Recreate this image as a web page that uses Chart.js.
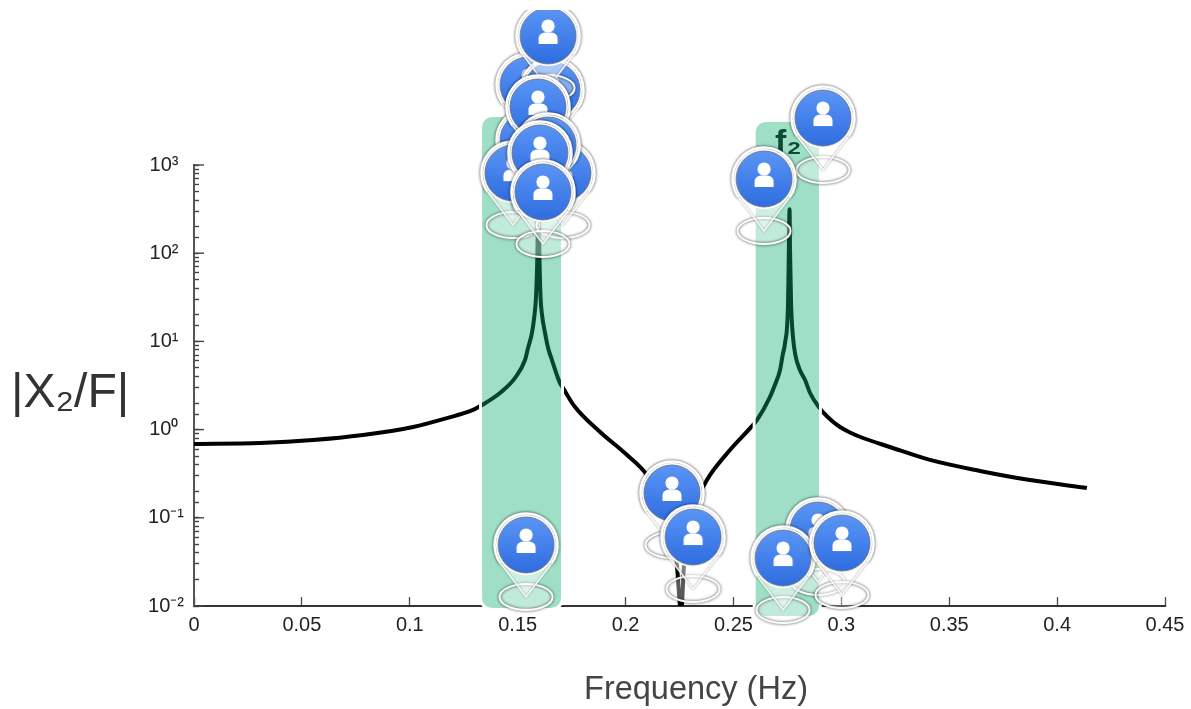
<!DOCTYPE html>
<html>
<head>
<meta charset="utf-8">
<style>html,body{margin:0;padding:0;background:#fff}#w{width:1191px;height:709px;position:relative}</style>
<script src="https://cdn.jsdelivr.net/npm/chart.js@4/dist/chart.umd.min.js"></script>
</head>
<body>
<div id="w"><canvas id="c" width="1191" height="709"></canvas></div>
<script>
const curveFreq = [0,0.0306,0.0551,0.0783,0.1015,0.1172,0.1293,0.1335,0.1418,0.1488,0.1534,0.1548,0.1566,0.1578,0.1585,0.1591,0.1596,0.1601,0.1606,0.1613,0.1627,0.1641,0.1659,0.1696,0.1710,0.1766,0.1882,0.2007,0.2099,0.2169,0.2215,0.2238,0.2252,0.2257,0.2271,0.2299,0.2331,0.2359,0.2391,0.2484,0.2591,0.2609,0.2669,0.2692,0.2716,0.2728,0.2739,0.2753,0.2757,0.2760,0.2762,0.2767,0.2776,0.2787,0.2808,0.2832,0.2855,0.2896,0.2915,0.2957,0.2994,0.3040,0.3100,0.3225,0.3411,0.3643,0.3874,0.4138];
const curveMag = [0.687,0.705,0.762,0.869,1.07,1.35,1.67,1.90,2.60,3.85,6.15,8.4,12.4,19.9,31.9,88,500,88,31.9,19.9,12.4,8.4,6.15,3.37,2.97,1.80,0.94,0.515,0.305,0.14,0.0727,0.0292,0.01,0.008,0.0292,0.0944,0.159,0.223,0.305,0.587,1.13,1.28,2.34,3.2,4.74,7.0,9.6,27.2,118,316,118,27.2,11.2,7.0,4.74,3.65,2.6,1.8,1.58,1.25,1.07,0.927,0.803,0.635,0.453,0.34,0.268,0.218];
const pinFreq = [0.1548,0.1659,0.1641,0.1548,0.1594,0.1478,0.1710,0.1641,0.1603,0.1617,0.1539,0.2215,0.2313,0.2892,0.2730,0.3003,0.2915,0.2642];
const pinMag = [2024,1777,7277,482,1140,203,203,423,343,124,0.01233,0.0479,0.01518,0.01824,0.00877,0.01298,855,174];
const bandFrom = [0.1335,0.2603];
const bandTo = [0.1701,0.2896];
const bandTop = [3500,3074];
const bandBottom = [0.0095,0.0077];
const xTickLabels = ['0','0.05','0.1','0.15','0.2','0.25','0.3','0.35','0.4','0.45'];
const yTickLabels = ['10\u207B\u00B2','10\u207B\u00B9','10\u2070 ','10\u00B9 ','10\u00B2 ','10\u00B3 '];
const xTitle = 'Frequency (Hz)';
const yTitle = '|X\u2082/F|';
const peakLabel = 'f\u2082';
const peakLabelAt = [0.2693,1368];

const FONT = '"Liberation Sans", Arial, sans-serif';

function makePin(){
  const W=120,H=190,c=document.createElement('canvas');
  c.width=W;c.height=H;
  const g=c.getContext('2d');
  g.translate(W/2,H/2);
  const R=31.5,D=53,a=Math.asin(R/D);
  const soft=()=>{g.shadowColor='rgba(0,0,0,0.8)';g.shadowBlur=3;};
  const hard=()=>{g.shadowColor='transparent';g.shadowBlur=0;};
  // ground ellipse
  g.beginPath();g.ellipse(0,-1,26.5,13,0,0,Math.PI*2);
  g.fillStyle='rgba(255,255,255,0.35)';g.fill();
  soft();g.strokeStyle='#fff';g.lineWidth=2;g.stroke();hard();
  // teardrop
  g.beginPath();g.arc(0,-D,R,a,Math.PI-a,true);g.lineTo(0,0);g.closePath();
  g.fillStyle='rgba(255,255,255,0.5)';g.fill();
  soft();
  g.beginPath();g.arc(0,-D,R,a,Math.PI-a,true);
  g.strokeStyle='#fff';g.lineWidth=2.6;g.stroke();
  g.shadowColor='rgba(0,0,0,0.45)';g.shadowBlur=2;
  g.beginPath();g.moveTo(R*Math.cos(a),-D+R*Math.sin(a));g.lineTo(0,-1);g.lineTo(-R*Math.cos(a),-D+R*Math.sin(a));
  g.strokeStyle='rgba(255,255,255,0.95)';g.lineWidth=1.6;g.stroke();
  hard();
  // ring
  g.beginPath();g.arc(0,-D,30,0,Math.PI*2);g.fillStyle='#fff';g.fill();
  // blue disc
  const gr=g.createLinearGradient(0,-D-28,0,-D+28);
  gr.addColorStop(0,'#5a95f5');gr.addColorStop(1,'#2f6de0');
  g.beginPath();g.arc(0,-D,28,0,Math.PI*2);g.fillStyle=gr;g.fill();
  g.strokeStyle='rgba(110,110,110,0.8)';g.lineWidth=1;g.stroke();
  // person
  g.fillStyle='#fff';
  g.beginPath();g.arc(0,-D-10,6.6,0,Math.PI*2);g.fill();
  g.beginPath();g.moveTo(-9.5,-D+8);g.lineTo(9.5,-D+8);g.lineTo(9.5,-D+2);
  g.quadraticCurveTo(9,-D-3,3,-D-3.5);g.lineTo(-3,-D-3.5);g.quadraticCurveTo(-9,-D-3,-9.5,-D+2);g.closePath();g.fill();
  return c;
}
const pinImage = makePin();

const overlay = {
  id:'overlay',
  beforeDatasetDraw(chart,args){
    if(args.index!==1) return;
    const {ctx,scales:{x,y}}=chart;
    const rect=i=>{
      const l=x.getPixelForValue(bandFrom[i]),r=x.getPixelForValue(bandTo[i]);
      const t=y.getPixelForValue(bandTop[i]),b=y.getPixelForValue(bandBottom[i]);
      ctx.beginPath();ctx.roundRect(l,t,r-l,b-t,10);
      return [l,r];
    };
    ctx.save();
    // white halo round each band, cutting the curve and the axis
    bandFrom.forEach((f,i)=>{
      rect(i);ctx.strokeStyle='#fff';ctx.lineWidth=6;ctx.stroke();
      rect(i);ctx.fillStyle='#fff';ctx.fill();
    });
    // the curve and the label show through the band
    const line=chart.getDatasetMeta(0).dataset;
    const a=chart.chartArea;
    bandFrom.forEach((f,i)=>{
      const [l,r]=rect(i);
      ctx.save();
      ctx.beginPath();ctx.rect(l,a.top,r-l,a.height);ctx.clip();
      line.draw(ctx,a);
      ctx.restore();
    });
    ctx.fillStyle='#0a0a0a';ctx.font='bold 34px '+FONT;ctx.textBaseline='alphabetic';ctx.textAlign='left';
    ctx.fillText(peakLabel,x.getPixelForValue(peakLabelAt[0]),y.getPixelForValue(peakLabelAt[1]));
    bandFrom.forEach((f,i)=>{
      rect(i);ctx.fillStyle='rgba(12,175,112,0.4)';ctx.fill();
    });
    ctx.restore();
  },
  afterDatasetDraw(chart,args){
    if(args.index!==1) return;
    const ctx=chart.ctx;
    ctx.save();
    ctx.beginPath();ctx.rect(0,10,1191,699);ctx.clip();
    chart.getDatasetMeta(1).data.forEach(el=>{
      ctx.drawImage(pinImage,el.x-pinImage.width/2,el.y-pinImage.height/2);
    });
    ctx.restore();
  },
  beforeDatasetsDraw(chart){
    const {ctx,scales:{y}}=chart;
    const a=chart.chartArea;
    ctx.save();
    ctx.strokeStyle='#444';ctx.lineWidth=1.4;
    y.ticks.forEach(t=>{
      if(!Number.isInteger(Math.round(Math.log10(t.value)*1e6)/1e6)) return;
      const p=y.getPixelForValue(t.value);
      ctx.beginPath();ctx.moveTo(a.left,p);ctx.lineTo(a.left+10,p);ctx.stroke();
    });
    ctx.fillStyle='#333';
    ctx.textBaseline='alphabetic';
    ctx.font='48px '+FONT;
    ctx.textAlign='left';
    ctx.fillText(yTitle,11,407);
    ctx.fillStyle='#444';
    ctx.font='32.5px '+FONT;
    ctx.textAlign='center';
    ctx.fillText(xTitle,696,699);
    ctx.restore();
  }
};

new Chart(document.getElementById('c'),{
  type:'scatter',
  data:{datasets:[
    {data:curveFreq.map((f,i)=>({x:f,y:curveMag[i]})),showLine:true,borderColor:'#000',borderWidth:4,pointRadius:0,cubicInterpolationMode:'monotone',order:2},
    {data:pinFreq.map((f,i)=>({x:f,y:pinMag[i]})),showLine:false,pointRadius:0,clip:false,order:1}
  ]},
  plugins:[overlay],
  options:{
    responsive:false,animation:false,
    devicePixelRatio:1,
    layout:{padding:{left:0,right:26,top:165,bottom:0}},
    plugins:{legend:{display:false},tooltip:{enabled:false}},
    events:[],
    scales:{
      x:{type:'linear',min:0,max:0.45,
        afterFit(s){s.height=103;s.paddingLeft=0;s.paddingRight=0;},
        border:{display:true,color:'#333',width:2},
        grid:{display:true,drawOnChartArea:false,drawTicks:true,tickLength:-9,tickColor:'#555',tickWidth:1.4},
        ticks:{stepSize:0.05,autoSkip:false,maxRotation:0,padding:16,color:'#222',font:{family:FONT,size:20},
          callback(v){return xTickLabels[Math.round(v/0.05)];}}
      },
      y:{type:'logarithmic',min:0.01,max:1000,
        afterFit(s){s.width=194;},
        border:{display:true,color:'#555',width:2},
        grid:{display:true,drawOnChartArea:false,drawTicks:true,tickLength:-5,tickColor:'#444',tickWidth:1.4},
        ticks:{autoSkip:false,padding:15,color:'#222',font:{family:FONT,size:20},
          callback(v){const e=Math.log10(v);const r=Math.round(e);return Math.abs(e-r)<1e-6?yTickLabels[r+2]:'';}}
      }
    }
  }
});
</script>
</body>
</html>
